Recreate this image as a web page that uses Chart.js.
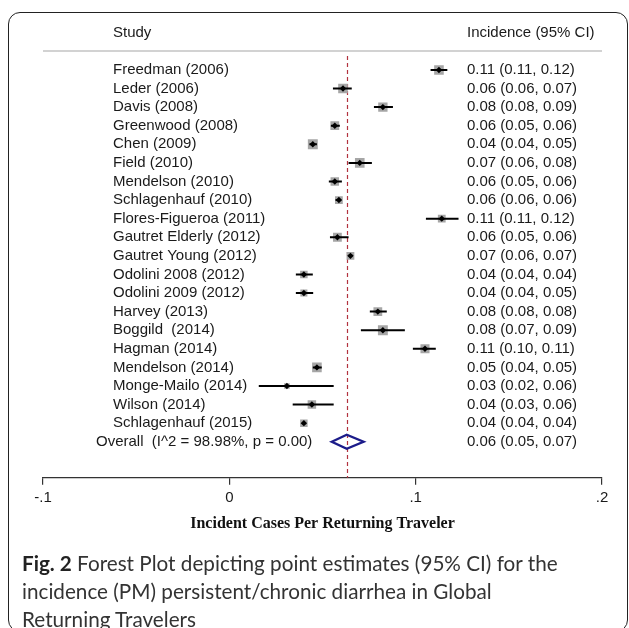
<!DOCTYPE html>
<html>
<head>
<meta charset="utf-8">
<script src="https://cdn.jsdelivr.net/npm/chart.js@4.4.1/dist/chart.umd.min.js"></script>
<style>
  html, body { margin: 0; padding: 0; background: #fff; }
  #wrap { position: relative; width: 629px; height: 628px; overflow: hidden; }
  #plot { position: absolute; left: 0; top: 0; }
  #frame {
    position: absolute; left: 8px; top: 12px; width: 620px; height: 620px;
    box-sizing: border-box; border: 1.5px solid #222; border-radius: 12px;
  }
  #caption {
    position: absolute; left: 22px; top: 549px; width: 600px;
    font-family: Lato, "Open Sans", sans-serif; font-size: 20.7px; line-height: 28px;
    color: #333;
  }
  #caption b { color: #222; }
</style>
</head>
<body>
<div id="wrap">
  <div id="frame"></div>
  <canvas id="plot" width="629" height="628"></canvas>
  <div id="caption"><b>Fig. 2</b> Forest Plot depicting point estimates (95% CI) for the<br>incidence (PM) persistent/chronic diarrhea in Global<br>Returning Travelers</div>
</div>
<script>
const studies = [
  'Freedman (2006)', 'Leder (2006)', 'Davis (2008)', 'Greenwood (2008)', 'Chen (2009)',
  'Field (2010)', 'Mendelson (2010)', 'Schlagenhauf (2010)', 'Flores-Figueroa (2011)',
  'Gautret Elderly (2012)', 'Gautret Young (2012)', 'Odolini 2008 (2012)', 'Odolini 2009 (2012)',
  'Harvey (2013)', 'Boggild  (2014)', 'Hagman (2014)', 'Mendelson (2014)', 'Monge-Mailo (2014)',
  'Wilson (2014)', 'Schlagenhauf (2015)'
];
const estimate = [0.1125, 0.061, 0.0824, 0.0566, 0.0448, 0.070, 0.0566, 0.0588, 0.114, 0.058,
  0.065, 0.040, 0.040, 0.0797, 0.0824, 0.105, 0.047, 0.0309, 0.0443, 0.040];
const lower = [0.108, 0.0556, 0.0776, 0.0545, 0.043, 0.064, 0.0534, 0.057, 0.1055, 0.054,
  0.064, 0.0357, 0.0357, 0.0754, 0.0706, 0.0985, 0.0448, 0.0158, 0.034, 0.0395];
const upper = [0.117, 0.0657, 0.0878, 0.0593, 0.047, 0.0765, 0.0604, 0.060, 0.123, 0.064,
  0.066, 0.0448, 0.045, 0.0845, 0.0942, 0.1108, 0.0496, 0.056, 0.056, 0.0405];
const weights = [6.8, 6.8, 6.6, 6.2, 7.0, 6.8, 6.0, 5.5, 5.5, 6.2, 5.5, 5.3, 5.0, 6.2, 7.0, 6.4, 6.8, 4.0, 6.0, 5.3];
const ciText = [
  '0.11 (0.11, 0.12)', '0.06 (0.06, 0.07)', '0.08 (0.08, 0.09)', '0.06 (0.05, 0.06)',
  '0.04 (0.04, 0.05)', '0.07 (0.06, 0.08)', '0.06 (0.05, 0.06)', '0.06 (0.06, 0.06)',
  '0.11 (0.11, 0.12)', '0.06 (0.05, 0.06)', '0.07 (0.06, 0.07)', '0.04 (0.04, 0.04)',
  '0.04 (0.04, 0.05)', '0.08 (0.08, 0.08)', '0.08 (0.07, 0.09)', '0.11 (0.10, 0.11)',
  '0.05 (0.04, 0.05)', '0.03 (0.02, 0.06)', '0.04 (0.03, 0.06)', '0.04 (0.04, 0.04)'
];
const overallLabel = 'Overall  (I^2 = 98.98%, p = 0.00)';
const overall = { est: 0.063, lo: 0.055, hi: 0.072, text: '0.06 (0.05, 0.07)' };
const xTicks = [-0.1, 0, 0.1, 0.2];
const xTickLabels = ['-.1', '0', '.1', '.2'];

const ciLines = [];
studies.forEach((s, i) => {
  ciLines.push({ x: lower[i], y: i }, { x: upper[i], y: i }, { x: null, y: null });
});

const sansFont = '"Liberation Sans", Arial, sans-serif';

const forestText = {
  id: 'forestText',
  beforeDatasetsDraw(chart) {
    const { ctx, chartArea, scales: { x } } = chart;
    ctx.save();
    // dashed line at the pooled estimate
    ctx.strokeStyle = '#b2323f';
    ctx.lineWidth = 1.2;
    ctx.setLineDash([4, 3]);
    const rx = Math.round(x.getPixelForValue(overall.est)) + 0.5;
    ctx.beginPath();
    ctx.moveTo(rx, chartArea.top);
    ctx.lineTo(rx, chartArea.bottom);
    ctx.stroke();
    ctx.restore();
  },
  afterDraw(chart) {
    const { ctx, chartArea, scales: { x, y } } = chart;
    ctx.save();
    ctx.font = '15px ' + sansFont;
    ctx.fillStyle = '#1a1a1a';
    ctx.textBaseline = 'middle';
    ctx.fillText('Study', 113, 33);
    ctx.fillText('Incidence (95% CI)', 467, 33);

    ctx.strokeStyle = '#d2d2d2';
    ctx.lineWidth = 2;
    ctx.beginPath();
    ctx.moveTo(chartArea.left, 51);
    ctx.lineTo(chartArea.right, 51);
    ctx.stroke();

    studies.forEach((s, i) => {
      const py = y.getPixelForValue(i);
      ctx.fillText(s, 113, py);
      ctx.fillText(ciText[i], 467, py);
    });
    const oy = y.getPixelForValue(studies.length);
    ctx.fillText(overallLabel, 96, oy);
    ctx.fillText(overall.text, 467, oy);

    // pooled diamond
    const l = x.getPixelForValue(overall.lo);
    const c = x.getPixelForValue(overall.est);
    const r = x.getPixelForValue(overall.hi);
    ctx.strokeStyle = '#1c1c8a';
    ctx.lineWidth = 2.4;
    ctx.beginPath();
    ctx.moveTo(l, oy);
    ctx.lineTo(c, oy - 7);
    ctx.lineTo(r, oy);
    ctx.lineTo(c, oy + 7);
    ctx.closePath();
    ctx.stroke();
    ctx.restore();
  }
};

new Chart(document.getElementById('plot'), {
  type: 'scatter',
  data: {
    datasets: [
      {
        label: 'weight',
        data: studies.map((s, i) => ({ x: estimate[i], y: i })),
        pointStyle: 'rect',
        pointRadius: weights,
        backgroundColor: '#a6a6a6',
        borderWidth: 0,
        order: 3
      },
      {
        type: 'line',
        label: 'ci',
        data: ciLines,
        showLine: true,
        spanGaps: false,
        borderColor: '#000',
        borderWidth: 2,
        pointRadius: 0,
        order: 2
      },
      {
        label: 'estimate',
        data: studies.map((s, i) => ({ x: estimate[i], y: i })),
        pointStyle: 'rectRot',
        pointRadius: 3.2,
        backgroundColor: '#000',
        borderWidth: 0,
        order: 1
      }
    ]
  },
  options: {
    responsive: false,
    animation: false,
    layout: { padding: { left: 43, right: 27, top: 56, bottom: 95 } },
    plugins: {
      legend: { display: false },
      tooltip: { enabled: false }
    },
    scales: {
      x: {
        type: 'linear',
        min: -0.1,
        max: 0.2,
        afterBuildTicks(axis) {
          axis.ticks = xTicks.map(v => ({ value: v }));
        },
        ticks: {
          font: { family: sansFont, size: 15 },
          color: '#1a1a1a',
          padding: 4,
          maxRotation: 0,
          callback(value) {
            const idx = xTicks.findIndex(t => Math.abs(t - value) < 1e-9);
            return idx >= 0 ? xTickLabels[idx] : '';
          }
        },
        grid: { drawOnChartArea: false, drawTicks: true, tickLength: 7, color: '#333', lineWidth: 1.2 },
        border: { display: true, color: '#333', width: 1.2 },
        title: {
          display: true,
          text: 'Incident Cases Per Returning Traveler',
          font: { family: '"Liberation Serif", "Times New Roman", serif', size: 16, weight: 'bold' },
          color: '#111',
          padding: { top: 3, bottom: 0 }
        }
      },
      y: {
        type: 'linear',
        reverse: true,
        min: -0.75,
        max: 21.94,
        display: false
      }
    }
  },
  plugins: [forestText]
});
</script>
</body>
</html>
